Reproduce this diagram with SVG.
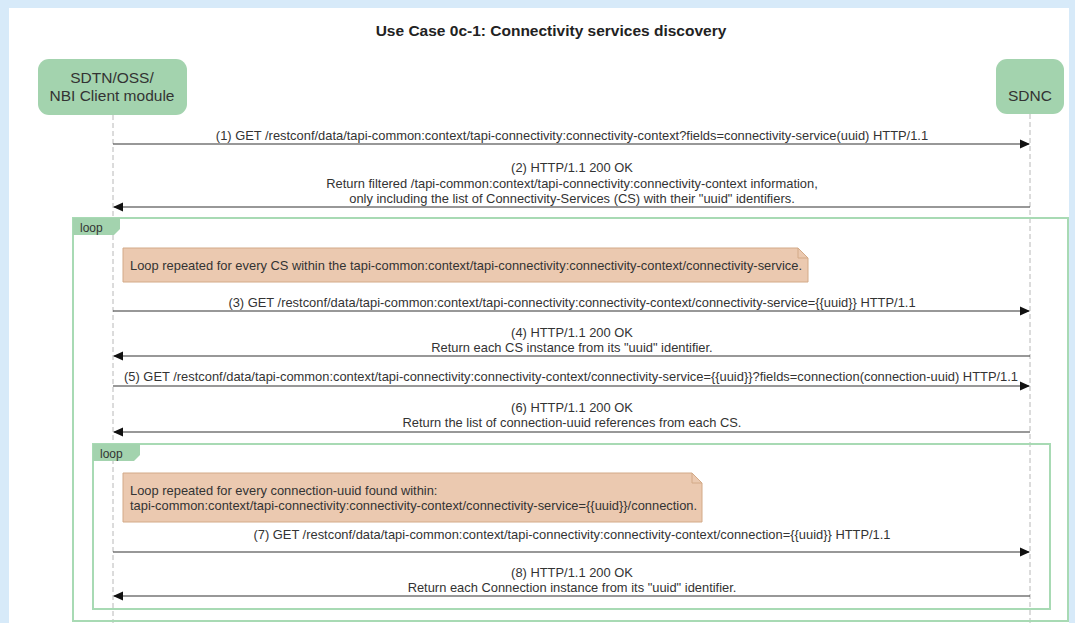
<svg xmlns="http://www.w3.org/2000/svg" width="1075" height="623" viewBox="0 0 1075 623">
<style>
text{font-family:"Liberation Sans",Arial,sans-serif;fill:#333}
.t{font-size:15.5px;font-weight:bold;fill:#222}
.a{font-size:15.5px;text-anchor:middle;fill:#333}
.m{font-size:12.9px;text-anchor:middle}
.n{font-size:12.9px}
.l{font-size:12px}
.actor{fill:#a3d3ae}
.life{stroke:#b8b8b8;stroke-width:1;stroke-dasharray:5,3}
.msg{stroke:#333;stroke-width:1.2;fill:none}
.frame{fill:none;stroke:#a8dab4;stroke-width:2}
.tab{fill:#a3d3ae}
.note{fill:#ebc9b0;stroke:#d3aa88;stroke-width:1}
</style>
<defs>
<marker id="ah" markerWidth="10" markerHeight="10" refX="9" refY="5" orient="auto" markerUnits="userSpaceOnUse">
<path d="M0,0.5 L10,5 L0,9.5 z" fill="#111"/>
</marker>
</defs>
<rect x="0" y="0" width="1075" height="623" fill="#d7eaf9"/>
<rect x="9" y="8" width="1060" height="615" fill="#ffffff"/>
<text class="t" x="551" y="36" text-anchor="middle">Use Case 0c-1: Connectivity services discovery</text>

<g id="lifelines">
<line class="life" x1="113" y1="115" x2="113" y2="623"/>
<line class="life" x1="1030" y1="114" x2="1030" y2="623"/>
</g>

<g id="client">
<rect class="actor" x="38" y="59" width="149" height="56" rx="11"/>
<text class="a" x="112" y="83">SDTN/OSS/</text>
<text class="a" x="112" y="101">NBI Client module</text>
</g>
<g id="sdnc">
<rect class="actor" x="996" y="59" width="68" height="55" rx="11"/>
<text class="a" x="1030" y="101">SDNC</text>
</g>

<g id="loop1">
<rect class="frame" x="73" y="218" width="995" height="403"/>
<path class="tab" d="M73,218 H120 V229 L114,235 H73 z"/>
<text class="l" x="80" y="232">loop</text>
</g>
<g id="note1">
<path class="note" d="M123,248 H798 L808,258 V282 H123 z"/>
<path d="M798,248 V258 H808" fill="none" stroke="#d3aa88"/>
<text class="n" x="130" y="270">Loop repeated for every CS within the tapi-common:context/tapi-connectivity:connectivity-context/connectivity-service.</text>
</g>
<g id="loop2">
<rect class="frame" x="93" y="444" width="957" height="165"/>
<path class="tab" d="M93,444 H140 V455 L134,461 H93 z"/>
<text class="l" x="100" y="458">loop</text>
</g>
<g id="note2">
<path class="note" d="M123,473 H692 L702,483 V522 H123 z"/>
<path d="M692,473 V483 H702" fill="none" stroke="#d3aa88"/>
<text class="n" x="130" y="495">Loop repeated for every connection-uuid found within:</text>
<text class="n" x="130" y="510">tapi-common:context/tapi-connectivity:connectivity-context/connectivity-service={{uuid}}/connection.</text>
</g>

<g id="connectors">
<line class="msg" x1="113" y1="144" x2="1029" y2="144" marker-end="url(#ah)"/>
<text class="m" x="572" y="140">(1) GET /restconf/data/tapi-common:context/tapi-connectivity:connectivity-context?fields=connectivity-service(uuid) HTTP/1.1</text>

<line class="msg" x1="1030" y1="207" x2="114" y2="207" marker-end="url(#ah)"/>
<text class="m" x="572" y="172">(2) HTTP/1.1 200 OK</text>
<text class="m" x="572" y="188">Return filtered /tapi-common:context/tapi-connectivity:connectivity-context information,</text>
<text class="m" x="572" y="203">only including the list of Connectivity-Services (CS) with their "uuid" identifiers.</text>

<line class="msg" x1="113" y1="311" x2="1029" y2="311" marker-end="url(#ah)"/>
<text class="m" x="572" y="307">(3) GET /restconf/data/tapi-common:context/tapi-connectivity:connectivity-context/connectivity-service={{uuid}} HTTP/1.1</text>

<line class="msg" x1="1030" y1="356" x2="114" y2="356" marker-end="url(#ah)"/>
<text class="m" x="572" y="337">(4) HTTP/1.1 200 OK</text>
<text class="m" x="572" y="352">Return each CS instance from its "uuid" identifier.</text>

<line class="msg" x1="113" y1="386" x2="1029" y2="386" marker-end="url(#ah)"/>
<text class="m" x="571" y="381">(5) GET /restconf/data/tapi-common:context/tapi-connectivity:connectivity-context/connectivity-service={{uuid}}?fields=connection(connection-uuid) HTTP/1.1</text>

<line class="msg" x1="1030" y1="432" x2="114" y2="432" marker-end="url(#ah)"/>
<text class="m" x="572" y="412">(6) HTTP/1.1 200 OK</text>
<text class="m" x="572" y="427">Return the list of connection-uuid references from each CS.</text>

<line class="msg" x1="113" y1="552" x2="1029" y2="552" marker-end="url(#ah)"/>
<text class="m" x="572" y="539">(7) GET /restconf/data/tapi-common:context/tapi-connectivity:connectivity-context/connection={{uuid}} HTTP/1.1</text>

<line class="msg" x1="1030" y1="596" x2="114" y2="596" marker-end="url(#ah)"/>
<text class="m" x="572" y="577">(8) HTTP/1.1 200 OK</text>
<text class="m" x="572" y="592">Return each Connection instance from its "uuid" identifier.</text>
</g>
</svg>
